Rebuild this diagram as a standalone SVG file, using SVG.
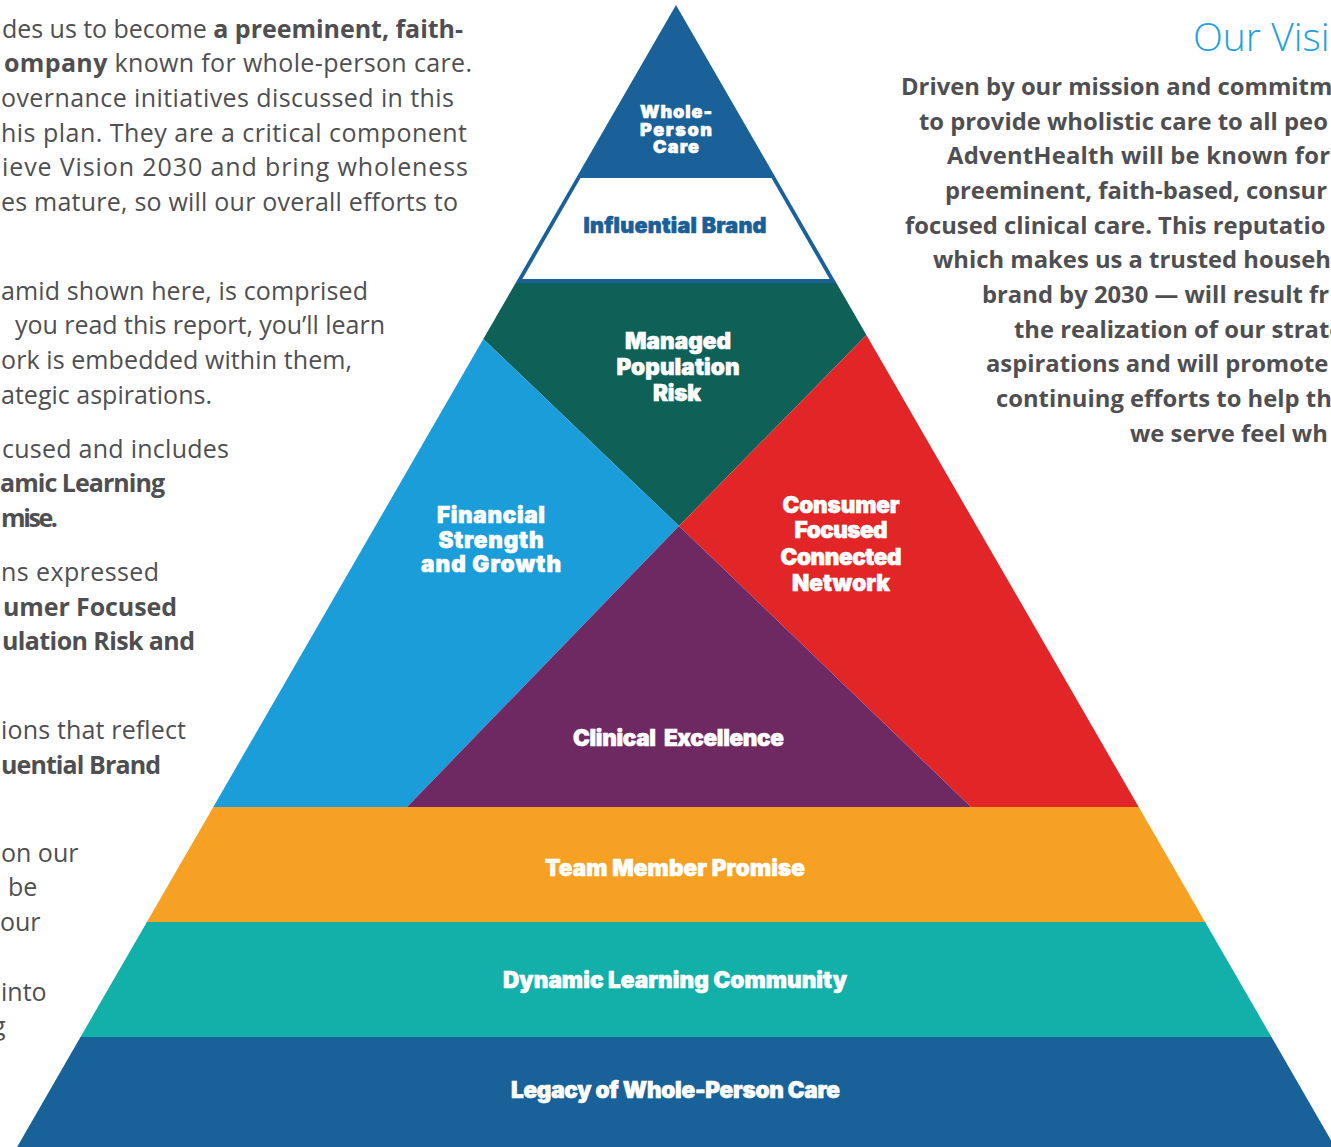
<svg xmlns="http://www.w3.org/2000/svg" width="1331" height="1147" viewBox="0 0 1331 1147">
<style>
.p{font-family:"Open Sans","Liberation Sans",sans-serif;font-size:25px;fill:#4f4f51;}
.b{font-weight:700;}
.r{font-family:"Open Sans","Liberation Sans",sans-serif;font-size:23.8px;font-weight:700;fill:#4f4f51;}
.t{font-family:"Inter","Lato","Liberation Sans",sans-serif;font-weight:900;fill:#ffffff;stroke:#ffffff;stroke-width:0.6;text-anchor:middle;}
.tb{fill:#1b5f97;stroke:#1b5f97;}
</style>
<rect width="1331" height="1147" fill="#ffffff"/>
<g id="left-text">
<text class="p" x="2" y="38" textLength="461">des us to become <tspan class="b">a preeminent, faith-</tspan></text>
<text class="p" x="4" y="72" textLength="468"><tspan class="b">ompany</tspan> known for whole-person care.</text>
<text class="p" x="1" y="107" textLength="453">overnance initiatives discussed in this</text>
<text class="p" x="1" y="142" textLength="466">his plan. They are a critical component</text>
<text class="p" x="2" y="176" textLength="466">ieve Vision 2030 and bring wholeness</text>
<text class="p" x="1" y="211" textLength="457">es mature, so will our overall efforts to</text>
<text class="p" x="1" y="300" textLength="367">amid shown here, is comprised</text>
<text class="p" x="15" y="334" textLength="370">you read this report, you’ll learn</text>
<text class="p" x="1" y="369" textLength="351">ork is embedded within them,</text>
<text class="p" x="1" y="404" textLength="211">ategic aspirations.</text>
<text class="p" x="2" y="458" textLength="227">cused and includes</text>
<text class="p b" x="0" y="492" textLength="165">amic Learning</text>
<text class="p b" x="1" y="527" textLength="57">mise.</text>
<text class="p" x="1" y="581" textLength="158">ns expressed</text>
<text class="p b" x="3" y="616" textLength="174">umer Focused</text>
<text class="p b" x="2" y="650" textLength="193">ulation Risk and</text>
<text class="p" x="1" y="739" textLength="185">ions that reflect</text>
<text class="p b" x="1" y="774" textLength="160">uential Brand</text>
<text class="p" x="1" y="862">on our</text>
<text class="p" x="8" y="896">be</text>
<text class="p" x="0" y="931">our</text>
<text class="p" x="1" y="1001">into</text>
<text class="p" x="-8" y="1035">g</text>
</g>
<g id="vision-text">
<text x="1193" y="51" font-family="Open Sans, Lato, sans-serif" font-weight="300" font-size="39" fill="#1ea1dc">Our Visi</text>
<text class="r" x="901" y="95">Driven by our mission and commitm</text>
<text class="r" x="919" y="130">to provide wholistic care to all peo</text>
<text class="r" x="947" y="164" textLength="383">AdventHealth will be known for</text>
<text class="r" x="945" y="199">preeminent, faith-based, consur</text>
<text class="r" x="905" y="234">focused clinical care. This reputatio</text>
<text class="r" x="933" y="268">which makes us a trusted househ</text>
<text class="r" x="982" y="303">brand by 2030 — will result fr</text>
<text class="r" x="1014" y="338">the realization of our strate</text>
<text class="r" x="986" y="372">aspirations and will promote</text>
<text class="r" x="996" y="407">continuing efforts to help th</text>
<text class="r" x="1130" y="442">we serve feel wh</text>
</g>
<g id="node-whole-person-care">
<polygon points="676,5 515.6,283 836.4,283" fill="#1a6199"/>
<text class="t" font-size="18"><tspan x="676" y="118" textLength="72">Whole-</tspan><tspan x="676" y="136" textLength="72">Person</tspan><tspan x="676" y="153" textLength="46">Care</tspan></text>
</g>
<g id="node-influential-brand">
<polygon points="580.5,178 771.5,178 829.6,279 522.4,279" fill="#ffffff"/>
<text class="t tb" font-size="21.5" x="675" y="233" textLength="183">Influential Brand</text>
</g>
<g id="node-managed-population-risk">
<polygon points="515.6,283 836.4,283 866.4,335 679,526 483.3,339" fill="#0f6158"/>
<text class="t" font-size="22.5"><tspan x="678" y="349" textLength="106">Managed</tspan><tspan x="678" y="375" textLength="123">Population</tspan><tspan x="677" y="401" textLength="48">Risk</tspan></text>
</g>
<g id="node-financial-strength">
<polygon points="483.3,339 679,526 407,807 213.3,807" fill="#1b9dd9"/>
<text class="t" font-size="22.5"><tspan x="491" y="523" textLength="108">Financial</tspan><tspan x="491" y="548" textLength="105">Strength</tspan><tspan x="491" y="572" textLength="140">and Growth</tspan></text>
</g>
<g id="node-consumer-focused">
<polygon points="866.4,335 1138.7,807 971,807 679,526" fill="#e22628"/>
<text class="t" font-size="22.5"><tspan x="841" y="513" textLength="117">Consumer</tspan><tspan x="841" y="538" textLength="93">Focused</tspan><tspan x="841" y="565" textLength="121">Connected</tspan><tspan x="841" y="591" textLength="98">Network</tspan></text>
</g>
<g id="node-clinical-excellence">
<polygon points="679,526 971,807 407,807" fill="#6e2862"/>
<text class="t" font-size="22.5" x="678.5" y="746" textLength="211" xml:space="preserve">Clinical  Excellence</text>
</g>
<g id="node-team-member-promise">
<polygon points="213.3,807 1138.7,807 1205.1,922 146.9,922" fill="#f6a123"/>
<text class="t" font-size="22.5" x="675" y="876" textLength="260">Team Member Promise</text>
</g>
<g id="node-dynamic-learning">
<polygon points="146.9,922 1205.1,922 1271.5,1037 80.5,1037" fill="#13b0aa"/>
<text class="t" font-size="22.5" x="675" y="988" textLength="344">Dynamic Learning Community</text>
</g>
<g id="node-legacy">
<polygon points="80.5,1037 1271.5,1037 1334.9,1147 17.1,1147" fill="#186199"/>
<text class="t" font-size="22.5" x="675.5" y="1098" textLength="329">Legacy of Whole-Person Care</text>
</g>
</svg>
